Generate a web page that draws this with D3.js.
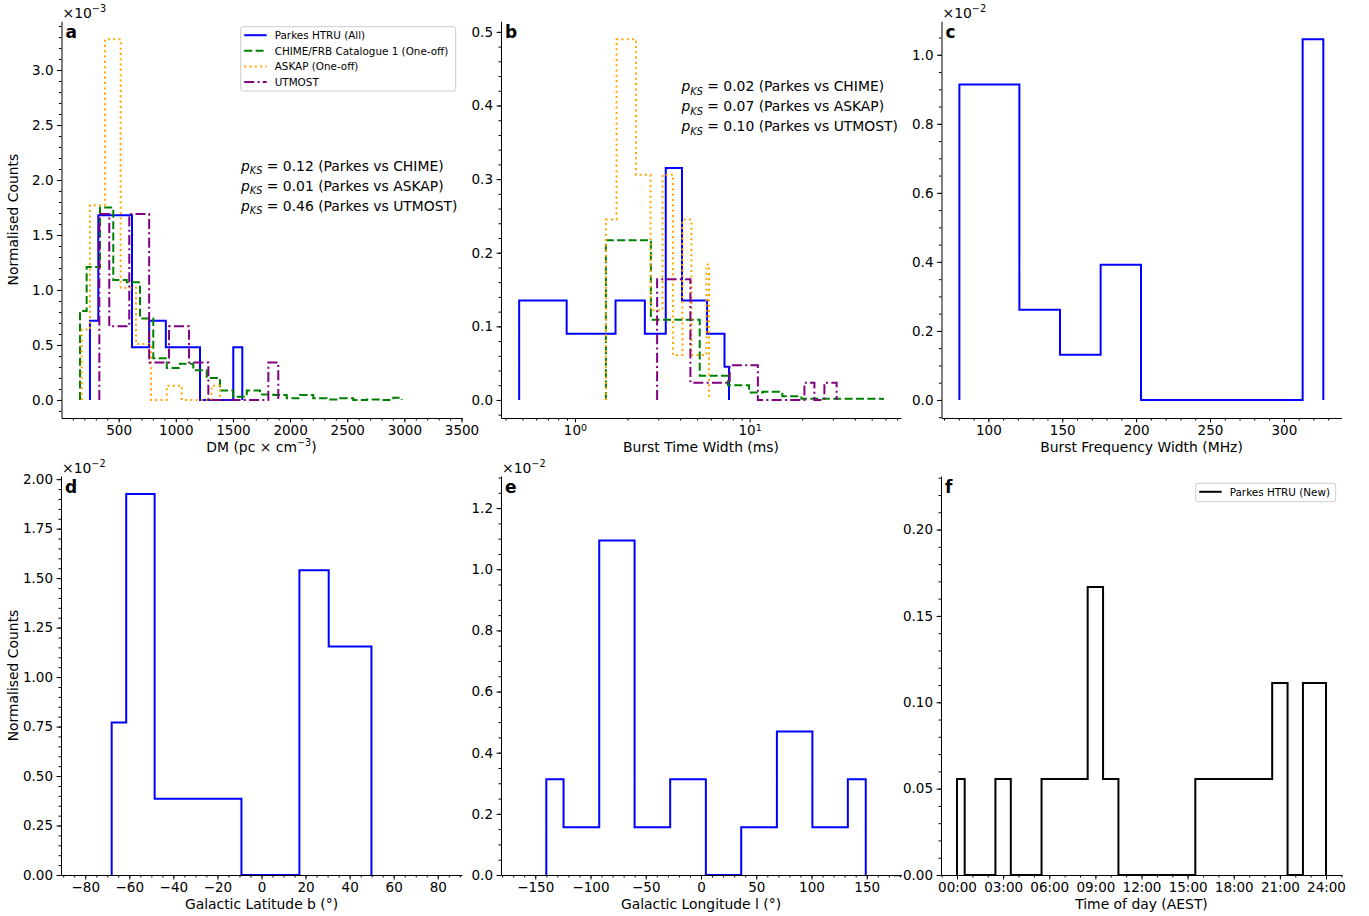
<!DOCTYPE html>
<html><head><meta charset="utf-8">
<script src="https://cdn.jsdelivr.net/npm/d3@7"></script>
<style>
body{margin:0;background:#fff;}
svg text{font-family:"DejaVu Sans",sans-serif;fill:#000;}
</style></head><body>
<script>
// ---- Panel a: dispersion measure (bin edges in pc cm^-3, counts in units of 1e-3) ----
const dmParkesEdges  = [249, 322, 617, 767, 913, 1212, 1503, 1582];
const dmParkesCounts = [0.72, 1.68, 0.48, 0.72, 0.48, 0.0, 0.48];
const dmChimeEdges   = [162, 220, 337, 453, 571, 687, 803, 921, 1037, 1153, 1271, 1387, 1503, 1621,
                        1737, 1853, 1971, 2087, 2203, 2321, 2437, 2553, 2671, 2787, 2903, 2977];
const dmChimeCounts  = [0.81, 1.21, 1.75, 1.09, 1.07, 0.74, 0.38, 0.29, 0.33, 0.27, 0.20, 0.085, 0.03,
                        0.085, 0.05, 0.045, 0.015, 0.045, 0.015, 0.005, 0.015, 0.0, 0.005, 0.0, 0.02];
const dmAskapEdges   = [177, 249, 381, 518, 652, 783, 921, 1052, 1314, 1387];
const dmAskapCounts  = [0.64, 1.77, 3.28, 1.02, 0.51, 0.0, 0.13, 0.0, 0.13];
const dmUtmostEdges  = [331, 418, 593, 767, 941, 1116, 1285, 1810, 1897];
const dmUtmostCounts = [1.69, 0.67, 1.69, 0.34, 0.67, 0.34, 0.0, 0.34];
const dmPks = ["0.12 (Parkes vs CHIME)", "0.01 (Parkes vs ASKAP)", "0.46 (Parkes vs UTMOST)"];

// ---- Panel b: burst time width (ms) ----
const wParkesEdges  = [0.479, 0.896, 1.707, 2.512, 3.31, 4.10, 5.70, 7.18, 7.62];
const wParkesCounts = [0.135, 0.090, 0.135, 0.090, 0.315, 0.135, 0.090, 0.045];
const wChimeEdges   = [1.503, 2.72, 5.18, 7.52, 9.93, 11.9, 15.4, 19.8, 57.9];
const wChimeCounts  = [0.217, 0.109, 0.033, 0.020, 0.010, 0.011, 0.005, 0.0015];
const wAskapEdges   = [1.503, 1.731, 2.232, 2.708, 3.171, 3.645, 4.125, 4.644, 5.656, 5.852];
const wAskapCounts  = [0.245, 0.49, 0.306, 0.122, 0.306, 0.061, 0.245, 0.061, 0.184];
const wUtmostEdges  = [2.953, 4.58, 7.69, 11.15, 20.6, 23.5, 26.8, 31.5];
const wUtmostCounts = [0.164, 0.0235, 0.047, 0.0, 0.0235, 0.0, 0.0235];
const wPks = ["0.02 (Parkes vs CHIME)", "0.07 (Parkes vs ASKAP)", "0.10 (Parkes vs UTMOST)"];

// ---- Panel c: burst frequency width (MHz), counts in units of 1e-2 ----
const fwEdges  = [80.4, 121.0, 148.5, 176.0, 203.3, 312.7, 326.7];
const fwCounts = [0.914, 0.261, 0.131, 0.392, 0.0, 1.045];

// ---- Panel d: Galactic latitude (deg), counts in units of 1e-2 ----
const latEdges  = [-68.0, -61.4, -48.5, -9.1, 17.2, 30.5, 49.9];
const latCounts = [0.77, 1.925, 0.385, 0.0, 1.54, 1.155];

// ---- Panel e: Galactic longitude (deg), counts in units of 1e-2 ----
const lonEdges  = [-140.0, -124.4, -92.1, -60.1, -27.9, 4.4, 36.4, 68.7, 100.8, 132.9, 149.1];
const lonCounts = [0.313, 0.156, 1.094, 0.156, 0.313, 0.0, 0.156, 0.469, 0.156, 0.313];

// ---- Panel f: time of day (hours, AEST) ----
const todEdges  = [0, 0.5, 2.5, 3.5, 5.5, 8.5, 9.5, 10.5, 15.5, 20.5, 21.5, 22.5, 24];
const todCounts = [0.0556, 0, 0.0556, 0, 0.0556, 0.1667, 0.0556, 0, 0.0556, 0.1111, 0, 0.1111];
const todTicks  = [0, 3, 6, 9, 12, 15, 18, 21, 24];
const todTickLabels = ["00:00", "03:00", "06:00", "09:00", "12:00", "15:00", "18:00", "21:00", "24:00"];
const todYTicks = [0, 0.05, 0.10, 0.15, 0.20];
const todYLabels = ["\u22120.00", "0.05", "0.10", "0.15", "0.20"];

const legendA = ["Parkes HTRU (All)", "CHIME/FRB Catalogue 1 (One-off)", "ASKAP (One-off)", "UTMOST"];
const legendF = ["Parkes HTRU (New)"];

// ---------------------------------------------------------------
const W = 1369, H = 916;
const TICK_FS = 13.5, LABEL_FS = 13.9;
const MAJOR = 4.5, MINOR = 2.5;
const svg = d3.select("body").append("svg").attr("width", W).attr("height", H);

const STY = {
  parkes: {color: "#0000ff", dash: null},
  chime:  {color: "#008000", dash: "8,3.4"},
  askap:  {color: "#ffa500", dash: "2,3.3"},
  utmost: {color: "#800080", dash: "10,3.3,2,3.3"},
  black:  {color: "#000000", dash: null}
};

function stepPoints(edges, counts) {
  const pts = [[edges[0], 0]];
  counts.forEach((c, i) => { pts.push([edges[i], c]); pts.push([edges[i + 1], c]); });
  pts.push([edges[edges.length - 1], 0]);
  return pts;
}

function range(a, b, s) {
  const out = [];
  const n = Math.round((b - a) / s);
  for (let i = 0; i <= n; i++) out.push(+(a + i * s).toFixed(6));
  return out;
}

function styleAxis(g) {
  g.attr("font-size", TICK_FS).attr("font-family", "DejaVu Sans");
  g.selectAll("line").attr("stroke", "#000");
  g.select(".domain").attr("stroke", "#000");
}

function drawPanel(o) {
  const g = svg.append("g");
  const x = o.x, y = o.y;
  const [xl, xr] = x.range();
  const [yb, yt] = y.range();
  const line = d3.line().x(d => x(d[0])).y(d => y(d[1]));

  o.series.forEach(s => {
    g.append("path")
      .attr("d", line(stepPoints(s.edges, s.counts)))
      .attr("fill", "none")
      .attr("stroke", s.sty.color)
      .attr("stroke-width", 2)
      .attr("stroke-dasharray", s.sty.dash)
      .attr("stroke-linejoin", "miter");
  });

  // minor ticks
  g.append("g").attr("transform", `translate(0,${yb})`)
    .call(d3.axisBottom(x).tickValues(o.xMinor).tickSize(MINOR).tickSizeOuter(0).tickFormat(""))
    .call(a => a.select(".domain").remove()).call(styleAxis);
  g.append("g").attr("transform", `translate(${xl},0)`)
    .call(d3.axisLeft(y).tickValues(o.yMinor).tickSize(MINOR).tickSizeOuter(0).tickFormat(""))
    .call(a => a.select(".domain").remove()).call(styleAxis);

  // major ticks with spines (left + bottom only)
  const xa = d3.axisBottom(x).tickValues(o.xTicks).tickSize(MAJOR).tickSizeOuter(0).tickPadding(3.2);
  if (o.xFormat) xa.tickFormat(o.xFormat);
  const gx = g.append("g").attr("transform", `translate(0,${yb})`).call(xa).call(styleAxis);
  if (o.xPost) o.xPost(gx);

  const ya = d3.axisLeft(y).tickValues(o.yTicks).tickSize(MAJOR).tickSizeOuter(0).tickPadding(3.5);
  if (o.yFormat) ya.tickFormat(o.yFormat);
  g.append("g").attr("transform", `translate(${xl},0)`).call(ya).call(styleAxis);

  // axis labels
  const xlab = g.append("text").attr("x", (xl + xr) / 2).attr("y", yb + 33.5)
    .attr("text-anchor", "middle").attr("font-size", LABEL_FS);
  o.xLabel(xlab);
  if (o.yLabel) {
    g.append("text").attr("transform", `translate(18.3,${(yb + yt) / 2}) rotate(-90)`)
      .attr("text-anchor", "middle").attr("font-size", LABEL_FS).text(o.yLabel);
  }

  // panel letter
  g.append("text").attr("x", xl + 4).attr("y", yt + 17.2).attr("font-size", 17)
    .attr("font-weight", "bold").text(o.letter);

  // scale factor
  if (o.offset) {
    const t = g.append("text").attr("x", xl + 1).attr("y", yt - 3).attr("font-size", LABEL_FS);
    t.append("tspan").text("\u00d710");
    t.append("tspan").attr("dy", -6).attr("font-size", 9.7).text(o.offset);
  }
  return g;
}

function pksText(g, x0, y0, rows) {
  rows.forEach((r, i) => {
    const t = g.append("text").attr("x", x0).attr("y", y0 + i * 20).attr("font-size", LABEL_FS);
    t.append("tspan").attr("font-style", "italic").text("p");
    t.append("tspan").attr("font-style", "italic").attr("font-size", 9.7).attr("dy", 3.2).text("KS");
    t.append("tspan").attr("dy", -3.2).text(" = " + r);
  });
}

function legend(g, x0, y0, w, h, items) {
  g.append("rect").attr("x", x0).attr("y", y0).attr("width", w).attr("height", h)
    .attr("rx", 2.5).attr("fill", "#fff").attr("fill-opacity", 0.8)
    .attr("stroke", "#cccccc").attr("stroke-width", 1);
  items.forEach((it, i) => {
    const cy = y0 + 8.5 + i * 15.6;
    g.append("line").attr("x1", x0 + 3.5).attr("x2", x0 + 26).attr("y1", cy).attr("y2", cy)
      .attr("stroke", it.sty.color).attr("stroke-width", 2).attr("stroke-dasharray", it.sty.dash);
    g.append("text").attr("x", x0 + 34).attr("y", cy + 3.7).attr("font-size", 10.4).text(it.label);
  });
}

const COLS = [[61.5, 461.5], [501, 901], [941.5, 1341.5]];
const TOP = [418, 21.2], BOT = [875, 476];

// Panel a
{
  const x = d3.scaleLinear().domain([0, 3500]).range(COLS[0]);
  const y = d3.scaleLinear().domain([-0.164, 3.444]).range(TOP);
  const g = drawPanel({
    x, y, letter: "a", offset: "\u22123",
    series: [
      {edges: dmParkesEdges, counts: dmParkesCounts, sty: STY.parkes},
      {edges: dmChimeEdges, counts: dmChimeCounts, sty: STY.chime},
      {edges: dmAskapEdges, counts: dmAskapCounts, sty: STY.askap},
      {edges: dmUtmostEdges, counts: dmUtmostCounts, sty: STY.utmost}
    ],
    xTicks: range(500, 3500, 500), xMinor: range(100, 3500, 100), xFormat: d3.format("d"),
    yTicks: range(0, 3, 0.5), yMinor: range(-0.1, 3.4, 0.1), yFormat: d3.format(".1f"),
    xLabel: t => { t.append("tspan").text("DM (pc \u00d7 cm"); t.append("tspan").attr("dy", -5.5).attr("font-size", 9.7).text("\u22123"); t.append("tspan").attr("dy", 5.5).text(")"); },
    yLabel: "Normalised Counts"
  });
  legend(g, 240.7, 26.7, 215, 64.3, legendA.map((l, i) => ({label: l, sty: [STY.parkes, STY.chime, STY.askap, STY.utmost][i]})));
  pksText(g, 241, 170.7, dmPks);
}

// Panel b
{
  const x = d3.scaleLog().domain([0.377, 73.6]).range(COLS[1]);
  const y = d3.scaleLinear().domain([-0.0245, 0.5145]).range(TOP);
  const minor = [0.4, 0.5, 0.6, 0.7, 0.8, 0.9, 2, 3, 4, 5, 6, 7, 8, 9, 20, 30, 40, 50, 60, 70];
  const g = drawPanel({
    x, y, letter: "b",
    series: [
      {edges: wParkesEdges, counts: wParkesCounts, sty: STY.parkes},
      {edges: wChimeEdges, counts: wChimeCounts, sty: STY.chime},
      {edges: wAskapEdges, counts: wAskapCounts, sty: STY.askap},
      {edges: wUtmostEdges, counts: wUtmostCounts, sty: STY.utmost}
    ],
    xTicks: [1, 10], xMinor: minor, xFormat: () => "",
    xPost: gx => gx.selectAll(".tick text").each(function (d) {
      const t = d3.select(this);
      t.append("tspan").text("10");
      t.append("tspan").attr("dy", "-0.45em").attr("font-size", 9.5).text(Math.round(Math.log10(d)));
    }),
    yTicks: range(0, 0.5, 0.1), yMinor: range(-0.02, 0.5, 0.02), yFormat: d3.format(".1f"),
    xLabel: t => t.text("Burst Time Width (ms)")
  });
  pksText(g, 681.5, 91.4, wPks);
}

// Panel c
{
  const x = d3.scaleLinear().domain([68.3, 339.0]).range(COLS[2]);
  const y = d3.scaleLinear().domain([-0.05225, 1.09725]).range(TOP);
  drawPanel({
    x, y, letter: "c", offset: "\u22122",
    series: [{edges: fwEdges, counts: fwCounts, sty: STY.parkes}],
    xTicks: range(100, 300, 50), xMinor: range(70, 330, 10), xFormat: d3.format("d"),
    yTicks: range(0, 1, 0.2), yMinor: range(-0.05, 1.05, 0.05), yFormat: d3.format(".1f"),
    xLabel: t => t.text("Burst Frequency Width (MHz)")
  });
}

// Panel d
{
  const x = d3.scaleLinear().domain([-91, 91]).range([61, 462]);
  const y = d3.scaleLinear().domain([0, 2.016]).range(BOT);
  drawPanel({
    x, y, letter: "d", offset: "\u22122",
    series: [{edges: latEdges, counts: latCounts, sty: STY.parkes}],
    xTicks: range(-80, 80, 20), xMinor: range(-90, 90, 5), xFormat: d3.format("d"),
    yTicks: range(0, 2, 0.25), yMinor: range(0, 2, 0.05), yFormat: d3.format(".2f"),
    xLabel: t => t.text("Galactic Latitude b (\u00b0)"),
    yLabel: "Normalised Counts"
  });
}

// Panel e
{
  const x = d3.scaleLinear().domain([-181, 181]).range([501, 901]);
  const y = d3.scaleLinear().domain([0, 1.305]).range(BOT);
  drawPanel({
    x, y, letter: "e", offset: "\u22122",
    series: [{edges: lonEdges, counts: lonCounts, sty: STY.parkes}],
    xTicks: range(-150, 150, 50), xMinor: range(-180, 180, 10), xFormat: d3.format("d"),
    yTicks: range(0, 1.2, 0.2), yMinor: range(0, 1.3, 0.05), yFormat: d3.format(".1f"),
    xLabel: t => t.text("Galactic Longitude l (\u00b0)")
  });
}

// Panel f
{
  const x = d3.scaleLinear().domain([-1.04, 25.04]).range([941, 1342]);
  const y = d3.scaleLinear().domain([0, 0.231]).range(BOT);
  const g = drawPanel({
    x, y, letter: "f",
    series: [{edges: todEdges, counts: todCounts, sty: STY.black}],
    xTicks: todTicks, xMinor: range(-1, 25, 1), xFormat: (d, i) => todTickLabels[i],
    yTicks: todYTicks, yMinor: range(0, 0.23, 0.01), yFormat: (d, i) => todYLabels[i],
    xLabel: t => t.text("Time of day (AEST)")
  });
  legend(g, 1195.7, 483.3, 140, 18.4, legendF.map(l => ({label: l, sty: STY.black})));
}
</script>
</body></html>
